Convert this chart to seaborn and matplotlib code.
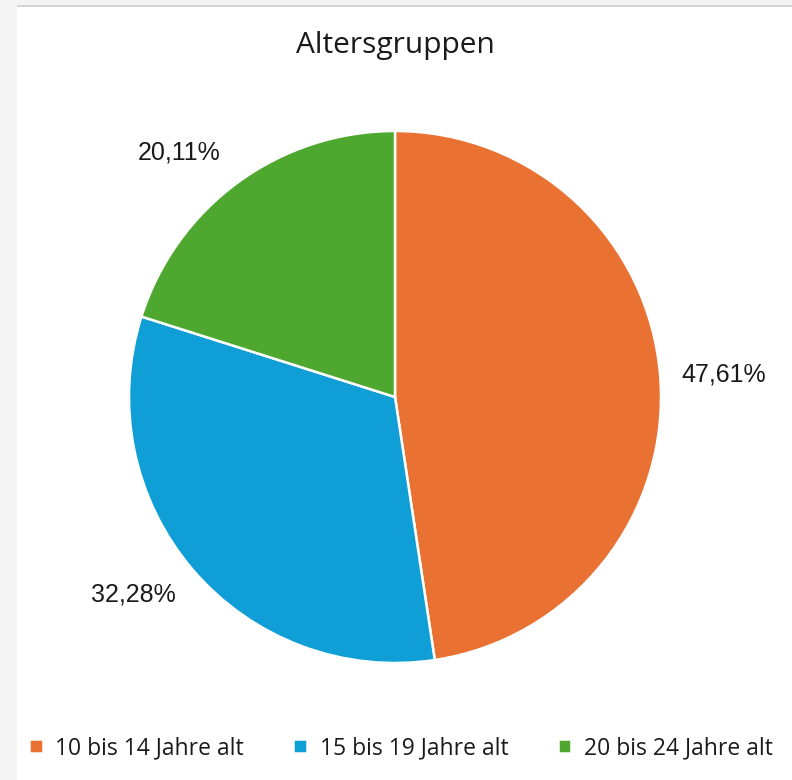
import matplotlib
matplotlib.use("Agg")
import matplotlib.pyplot as plt
import seaborn as sns
from matplotlib.patches import Rectangle

# Altersgruppen data
groups = ["10 bis 14 Jahre alt", "15 bis 19 Jahre alt", "20 bis 24 Jahre alt"]
shares = [47.61, 32.28, 20.11]
colors = ["#E97132", "#0F9ED5", "#4EA72E"]

sns.set_theme(style="white")
plt.rcParams["font.family"] = ["Open Sans", "DejaVu Sans"]

W, H = 792, 780
fig = plt.figure(figsize=(W / 100, H / 100), dpi=100)
fig.patch.set_facecolor("white")

# window chrome: grey strips at the left and top
fig.patches.append(Rectangle((0, 0), 17 / W, 1, transform=fig.transFigure,
                             facecolor="#f3f3f3", edgecolor="none", zorder=0))
fig.patches.append(Rectangle((0, 1 - 5 / H), 1, 5 / H, transform=fig.transFigure,
                             facecolor="#f3f3f3", edgecolor="none", zorder=0))
fig.patches.append(Rectangle((17 / W, 1 - 7 / H), 1, 2 / H, transform=fig.transFigure,
                             facecolor="#d4d4d4", edgecolor="none", zorder=0))

cx, cy, r = 395, 397, 266
ax = fig.add_axes([(cx - r) / W, (H - cy - r) / H, 2 * r / W, 2 * r / H])

wedges, _, pct = ax.pie(
    shares, colors=colors, startangle=90, counterclock=False, radius=1,
    autopct=lambda p: f"{p:.2f}%".replace(".", ","), pctdistance=1.24,
    wedgeprops=dict(edgecolor="white", linewidth=1.8),
    textprops=dict(fontsize=18, color="#1a1a1a",
                   family=["Liberation Sans", "DejaVu Sans"]),
)
ax.set_xlim(-1, 1)
ax.set_ylim(-1, 1)
ax.axis("off")

# Excel "best fit" label placement (in pie radius units)
label_pos = [(1.237, 0.083), (-0.983, -0.744), (-0.813, 0.920)]
for t, p in zip(pct, label_pos):
    t.set_position(p)

fig.text(395 / W, 1 - 45 / H, "Altersgruppen", ha="center", va="center",
         fontsize=21.5, color="#1a1a1a")

fig.legend(wedges, groups, loc="center", ncol=3,
           bbox_to_anchor=(401 / W, 1 - 748 / H), frameon=False,
           fontsize=16.5, handlelength=0.6, handleheight=0.6,
           handletextpad=0.55, columnspacing=2.15, labelcolor="#1a1a1a")

fig.savefig("out.png", dpi=100)
